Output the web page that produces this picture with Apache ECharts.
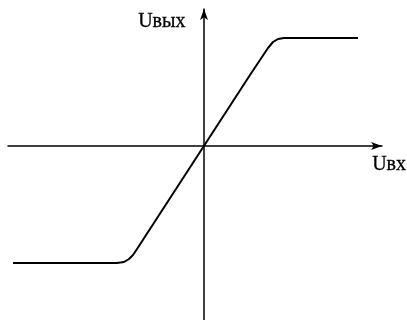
<!DOCTYPE html>
<html>
<head>
<meta charset="utf-8">
<script src="https://cdn.jsdelivr.net/npm/echarts@6/dist/echarts.min.js"></script>
<style>
  html, body { margin: 0; padding: 0; background: #fff; }
  #chart { width: 407px; height: 320px; }
</style>
</head>
<body>
<div id="chart"></div>
<script>
// transfer characteristic, values
const uIn = [-19.1, -8.7, -8.0, -7.5, -7.1, -6.7, 4.6, 5.8, 6.4, 6.9, 7.4, 8.0, 15.4];
const uOut = [-11.7, -11.7, -11.6, -11.3, -10.9, -10.3, 7.1, 8.9, 9.8, 10.4, 10.7, 10.8, 10.8];
const xLabel = "Uвх";
const yLabel = "Uвых";

const chart = echarts.init(document.getElementById("chart"));
const font = "'Liberation Serif', 'DejaVu Serif', serif";

const axisCommon = {
  type: "value",
  axisLine: {
    onZero: true,
    symbol: ["none", "arrow"],
    symbolSize: [6, 11],
    lineStyle: { color: "#000", width: 1.5 },
  },
  axisTick: { show: false },
  axisLabel: { show: false },
  splitLine: { show: false },
};

chart.setOption({
  backgroundColor: "#fff",
  animation: false,
  grid: { left: 8, right: 25, top: 9, bottom: 0 },
  xAxis: Object.assign({}, axisCommon, { min: -19.6, max: 17.8 }),
  yAxis: Object.assign({}, axisCommon, { min: -17.4, max: 13.7 }),
  graphic: [
    {
      type: "text",
      left: 138,
      top: 12,
      style: { text: yLabel, font: "20px " + font, fill: "#000", stroke: "#000", lineWidth: 0.3 },
    },
    {
      type: "text",
      left: 372,
      top: 155,
      style: { text: xLabel, font: "20px " + font, fill: "#000", stroke: "#000", lineWidth: 0.3 },
    },
  ],
  series: [
    {
      type: "line",
      data: uIn.map((x, i) => [x, uOut[i]]),
      symbol: "none",
      smooth: false,
      lineStyle: { color: "#000", width: 2 },
    },
  ],
});
</script>
</body>
</html>
